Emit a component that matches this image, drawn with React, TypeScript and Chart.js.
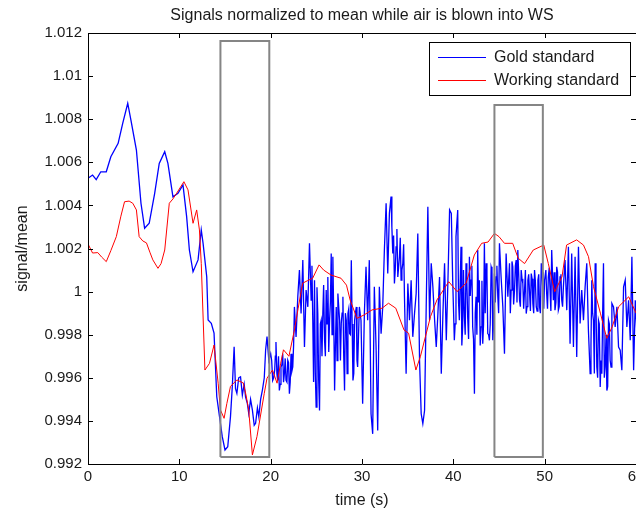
import { useEffect, useRef } from "react";
import { Chart, registerables } from "chart.js";

Chart.register(...registerables);

const TITLE = "Signals normalized to mean while air is blown into WS";
const X_LABEL = "time (s)";
const Y_LABEL = "signal/mean";
const GOLD_LABEL = "Gold standard";
const WORK_LABEL = "Working standard";

const xTickValues = [0, 10, 20, 30, 40, 50, 60];
const yTickValues = [0.992, 0.994, 0.996, 0.998, 1.0, 1.002, 1.004, 1.006, 1.008, 1.01, 1.012];

// [time (s), signal/mean] — main readings of the gold standard trace
const goldSignal: [number, number][] = [
  [0, 1.00526], [0.5, 1.00541], [0.9, 1.0052], [1.4, 1.00556], [2.0, 1.00556], [2.5, 1.00626],
  [3.3, 1.00688], [3.8, 1.00781], [4.35, 1.00874], [4.7, 1.00796], [5.3, 1.00657], [5.8, 1.0041],
  [6.2, 1.00294], [6.7, 1.00317], [7.3, 1.00456], [7.8, 1.00595], [8.4, 1.00649], [8.75, 1.00595],
  [9.3, 1.0044], [9.85, 1.00456], [10.4, 1.00495], [10.8, 1.00348], [11.1, 1.00193], [11.5, 1.00092],
  [12.05, 1.00147], [12.4, 1.00286], [12.6, 1.00224], [13.0, 1.00069], [13.15, 0.99868], [13.5, 0.99853],
  [13.8, 0.99807], [14.1, 0.99512], [14.4, 0.9942], [14.7, 0.99327], [15.0, 0.99265], [15.3, 0.9928],
  [15.6, 0.9942], [15.8, 0.9956], [16.0, 0.99744], [16.15, 0.9955], [16.3, 0.99528], [16.5, 0.996],
  [16.7, 0.99605], [16.9, 0.9952], [17.1, 0.9957], [17.25, 0.99512], [17.45, 0.9948], [17.6, 0.99435],
  [17.8, 0.995], [18.0, 0.9945], [18.2, 0.9938], [18.35, 0.99389], [18.55, 0.9946], [18.7, 0.9942],
  [18.9, 0.995], [19.1, 0.99544], [19.3, 0.996], [19.45, 0.9973], [19.6, 0.99791], [19.8, 0.9968],
  [20.0, 0.99712], [20.22, 0.99588], [20.44, 0.99635], [20.58, 0.99766], [20.77, 0.99588], [20.95, 0.99541],
  [21.13, 0.9965], [21.32, 0.99712], [21.5, 0.99619], [21.68, 0.99588], [21.87, 0.99681], [22.05, 0.99526],
  [22.23, 0.99712], [22.42, 0.9965], [22.6, 0.99929], [22.78, 0.9979], [22.97, 0.99976], [23.15, 1.001],
  [23.33, 0.99898], [23.52, 1.00146], [23.7, 0.99743], [23.88, 1.00007], [24.07, 0.99929], [24.25, 1.00224],
  [24.43, 0.9996], [24.61, 0.99867], [24.8, 1.00053], [24.98, 0.99464], [25.16, 0.99898], [25.35, 0.99448],
  [25.53, 0.99867], [25.71, 0.99898], [25.9, 0.99774], [26.08, 1.00007], [26.26, 1.00068], [26.45, 0.99867],
  [26.63, 1.00177], [26.81, 1.00162], [27.0, 0.99541], [27.18, 0.99929], [27.36, 0.99991], [27.55, 0.99867],
  [27.73, 0.99852], [27.91, 0.99976], [28.09, 0.99541], [28.28, 0.99867], [28.46, 0.99898], [28.64, 0.99805],
  [28.83, 1.00146], [29.01, 0.99588], [29.19, 0.99867], [29.38, 0.99929],
  [29.52, 0.9965], [29.71, 0.99929], [29.89, 0.99867], [30.07, 0.9948], [30.26, 0.99898], [30.44, 1.00115],
  [30.62, 0.99867], [30.8, 1.00146], [30.99, 0.99433], [31.17, 0.9934], [31.35, 1.00022], [31.54, 0.99743],
  [31.72, 0.99355], [31.9, 1.00022], [32.09, 0.99805], [32.27, 0.99929], [32.45, 1.00193], [32.64, 1.0041],
  [32.82, 1.00084], [33.0, 1.00363], [33.18, 1.00441], [33.37, 1.00177], [33.55, 1.00038], [33.73, 1.00208],
  [33.92, 1.00068], [34.1, 1.00162], [34.28, 1.00053], [34.47, 1.00131], [34.65, 0.99976], [34.83, 0.99619],
  [35.02, 1.00038], [35.2, 0.99867], [35.38, 1.00053], [35.56, 0.9979], [35.75, 0.99898], [35.93, 0.99991],
  [36.11, 1.0027], [36.3, 0.99681], [36.48, 0.99433], [36.66, 0.99387], [36.85, 0.99448], [37.03, 0.99929],
  [37.21, 1.00394], [37.4, 0.99867], [37.58, 1.00131], [37.76, 1.00022], [37.95, 0.99867], [38.13, 0.99743],
  [38.31, 0.99898], [38.49, 1.00068], [38.68, 0.99619], [38.86, 0.99898], [39.04, 1.00131], [39.23, 0.99774],
  [39.41, 1.00053], [39.59, 1.00379], [39.78, 1.00363],
  [39.93, 1.00053], [40.11, 0.99774], [40.29, 1.00255], [40.48, 1.00379], [40.66, 0.99867], [40.84, 1.00208],
  [41.02, 0.99836], [41.21, 0.99882], [41.39, 1.00131], [41.57, 0.99882], [41.76, 1.00162], [41.94, 1.00053],
  [42.12, 0.99836], [42.31, 0.99526], [42.49, 0.99976], [42.67, 1.00193], [42.85, 1.00053], [43.04, 0.99836],
  [43.22, 0.99758], [43.4, 1.00224], [43.59, 1.00131], [43.77, 0.99805], [43.95, 0.99774], [44.14, 1.00115],
  [44.32, 0.99774], [44.5, 1.00084], [44.68, 1.00068], [44.87, 0.99976], [45.05, 1.00224], [45.23, 1.00068],
  [45.42, 0.99929], [45.6, 0.99712], [45.78, 1.00177], [45.97, 0.99976], [46.15, 1.00131], [46.33, 1.00007],
  [46.51, 1.00115], [46.7, 1.00007], [46.88, 1.00146], [47.06, 1.00193], [47.25, 0.9996], [47.43, 1.001],
  [47.61, 1.00038], [47.8, 1.00007], [47.98, 0.99898], [48.16, 1.00053], [48.35, 0.99991], [48.53, 1.00084],
  [48.71, 0.99945], [48.89, 1.001], [49.08, 0.99929], [49.26, 1.00053], [49.44, 0.99929], [49.63, 1.00131],
  [49.81, 0.99991], [49.99, 1.00053],
  [50.22, 0.99991], [50.4, 1.00068], [50.59, 1.00007], [50.77, 1.00193], [50.95, 0.9996], [51.13, 0.99914],
  [51.32, 1.00115], [51.5, 0.99914], [51.68, 1.00068], [51.87, 0.9996], [52.05, 1.00022], [52.23, 1.00146],
  [52.42, 0.99914], [52.6, 1.00208], [52.78, 0.99758], [52.96, 1.00177], [53.15, 0.99743], [53.33, 1.00162],
  [53.51, 0.99697], [53.7, 1.00208], [53.88, 0.99852], [54.06, 1.00007], [54.25, 0.99867], [54.43, 1.00022],
  [54.61, 1.00131], [54.79, 0.99821], [54.98, 0.99619], [55.16, 1.00053], [55.34, 0.99867], [55.53, 1.00131],
  [55.71, 0.9965], [55.89, 0.99867], [56.08, 0.99557], [56.26, 0.99619], [56.44, 1.00131], [56.62, 0.9965],
  [56.81, 0.99541], [56.99, 0.99867], [57.17, 0.99681], [57.36, 0.99945], [57.54, 0.99929], [57.72, 0.99836],
  [57.91, 0.99929], [58.09, 0.99743], [58.27, 0.99728], [58.45, 0.99635], [58.64, 1.00022], [58.82, 1.00053],
  [59.0, 0.99836], [59.19, 0.9996], [59.37, 0.99774], [59.55, 1.00162], [59.74, 0.99635], [59.92, 0.9996],
  [60.1, 0.99805],
];

// extra readings of the gold trace in its densest (fast-oscillating) stretches
const goldDense: [number, number][] = [
  [20.11, 0.9968], [20.33, 0.996], [20.51, 0.997], [20.68, 0.9962], [20.86, 0.997], [21.04, 0.9957],
  [21.22, 0.9966], [21.41, 0.9958], [21.59, 0.9969], [21.78, 0.9958], [21.96, 0.9967], [22.14, 0.9958],
  [22.32, 0.9963], [22.51, 0.9975],
  [24.52, 1.0012], [24.7, 0.9958], [24.89, 0.9962], [25.07, 1.0002], [25.25, 0.996], [25.44, 0.9985],
  [25.62, 0.997], [25.8, 1.0003], [25.99, 0.997], [26.17, 0.9985], [26.36, 0.9972], [26.54, 0.9995],
  [26.72, 0.998], [26.9, 0.999], [27.09, 0.9975], [27.27, 0.9968], [27.45, 0.9993], [27.64, 0.9968],
  [27.82, 0.999], [28.0, 0.997], [28.18, 0.999], [28.37, 0.9962], [28.55, 0.9992], [28.73, 0.998],
  [28.92, 0.9985], [29.1, 0.9962], [29.28, 0.999], [29.45, 0.9968],
  [33.27, 1.003], [33.46, 1.0026], [33.64, 1.001], [33.82, 1.0029], [34.0, 1.0011], [34.19, 1.0025],
  [34.37, 1.001], [34.56, 1.0022],
  [40.2, 0.9985], [40.57, 0.9995], [40.93, 0.9975], [41.11, 1.001], [41.3, 0.998], [41.48, 1.0005],
  [41.67, 0.9978], [41.85, 0.9998], [42.03, 1.0012], [42.21, 0.9978], [42.4, 0.999], [42.58, 0.998],
  [42.76, 0.9995], [42.94, 0.9975], [43.13, 1.0005], [43.31, 0.9985], [43.49, 0.999], [43.68, 1.0008],
  [43.86, 0.998], [44.04, 0.9985], [44.23, 1.001], [44.41, 0.9985], [44.59, 0.9995], [44.77, 1.0012],
  [44.96, 0.999],
  [46.24, 0.999], [46.42, 1.0014], [46.6, 0.9994], [46.79, 1.0012], [46.97, 0.9995], [47.15, 1.0009],
  [47.34, 0.9993], [47.52, 1.0006], [47.7, 0.9992], [47.89, 1.001], [48.07, 0.9993], [48.25, 1.0008],
  [48.44, 0.9991], [48.62, 1.0006], [48.8, 0.999], [48.98, 1.0005], [49.17, 0.9991], [49.35, 1.0008],
  [49.53, 0.999], [49.72, 1.0009], [49.9, 0.9992],
  [50.13, 1.001], [50.31, 0.9992], [50.5, 1.0011], [50.68, 0.9991], [50.86, 1.0008], [51.04, 1.0009],
  [51.23, 0.9995], [51.41, 1.0009], [51.59, 0.9993], [51.78, 1.0008], [51.96, 0.9993],
  [55.07, 0.9975], [55.25, 0.999], [55.44, 0.9962], [55.62, 0.9995], [55.8, 0.996], [55.98, 0.9985],
  [56.17, 0.9968], [56.35, 0.999], [56.53, 0.996], [56.72, 0.998], [56.9, 0.9956], [57.08, 0.9985],
  [57.27, 0.9965],
];

const workSignal: [number, number][] = [
  [0, 1.00221], [0.5, 1.00179], [1.07, 1.00181], [1.5, 1.0016], [2.0, 1.00139], [2.5, 1.0019],
  [3.1, 1.00255], [3.6, 1.0035], [4.0, 1.00417], [4.5, 1.0042], [4.9, 1.0041], [5.3, 1.00379],
  [5.6, 1.00255], [6.0, 1.00235], [6.4, 1.00226], [6.8, 1.0018], [7.1, 1.00147], [7.66, 1.00108],
  [8.0, 1.0013], [8.4, 1.00193], [8.9, 1.0041], [9.3, 1.0043], [9.7, 1.00456], [10.5, 1.0051],
  [10.95, 1.00472], [11.5, 1.00317], [11.9, 1.00379], [12.2, 1.00286], [12.4, 1.00131], [12.8, 0.99636],
  [13.3, 0.99667], [13.8, 0.99752], [14.25, 0.99575], [14.5, 0.99451], [14.9, 0.99412], [15.2, 0.9948],
  [15.6, 0.9956], [16.3, 0.9959], [17.0, 0.99576], [17.3, 0.9952], [17.6, 0.9945], [18.0, 0.99242],
  [18.5, 0.99327], [19.3, 0.99528], [19.6, 0.99598], [20.2, 0.99636], [20.7, 0.99575], [21.1, 0.99668],
  [21.4, 0.9973], [22.0, 0.997], [22.6, 0.99822], [23.0, 0.9992], [23.5, 1.00039], [24.0, 1.0005],
  [24.6, 1.00062], [25.3, 1.00124], [25.8, 1.001], [26.6, 1.00077], [27.7, 1.00062], [28.3, 1.0003],
  [28.7, 0.99961], [29.45, 0.99876], [30.2, 0.99891], [31.1, 0.99915], [32.2, 0.99923], [32.9, 0.99946],
  [33.7, 0.99923], [34.6, 0.99822], [35.1, 0.99807], [35.9, 0.99636], [36.4, 0.997], [37.5, 0.99884],
  [38.2, 0.99961], [39.5, 1.00046], [40.4, 1.0], [41.4, 1.00039], [42.3, 1.0017], [43.1, 1.00224],
  [43.8, 1.0023], [44.5, 1.0027], [45.0, 1.00255], [45.6, 1.00224], [46.5, 1.00224], [47.1, 1.00155],
  [47.8, 1.0013], [48.75, 1.00193], [49.9, 1.00216], [50.4, 1.0013], [51.1, 0.99999], [51.9, 1.00069],
  [52.4, 1.00216], [53.5, 1.0024], [54.25, 1.00216], [54.8, 1.00162], [55.35, 1.00023], [56.1, 0.999],
  [56.8, 0.99783], [57.4, 0.99837], [58.1, 0.9993], [59.2, 0.99976], [60, 0.999],
];

// grey highlight rectangles (corner points)
const box1Time = [14.5, 14.5, 19.85, 19.85, 14.5];
const box1Value = [0.99232, 1.01163, 1.01163, 0.99232, 0.99232];
const box2Time = [44.5, 44.5, 49.8, 49.8, 44.5];
const box2Value = [0.99232, 1.00866, 1.00866, 0.99232, 0.99232];

const FONT = "'Liberation Sans', Arial, Helvetica, sans-serif";
const TEXT_COLOR = "#1a1a1a";

const fmt = (v: number) => String(Number(v.toFixed(3)));

const framePlugin = {
  id: "matlabFrame",
  afterDraw(chart: any) {
    const { ctx, chartArea } = chart;
    const { left, right, top, bottom } = chartArea;
    const xs = chart.scales.x;
    const ys = chart.scales.y;
    ctx.save();
    ctx.strokeStyle = "#000";
    ctx.lineWidth = 1;
    ctx.beginPath();
    ctx.rect(Math.round(left) + 0.5, Math.round(top) + 0.5, Math.round(right - left), Math.round(bottom - top));
    ctx.stroke();
    const tl = 5;
    ctx.beginPath();
    for (const v of xTickValues) {
      const px = Math.round(xs.getPixelForValue(v)) + 0.5;
      ctx.moveTo(px, bottom);
      ctx.lineTo(px, bottom - tl);
      ctx.moveTo(px, top);
      ctx.lineTo(px, top + tl);
    }
    for (const v of yTickValues) {
      const py = Math.round(ys.getPixelForValue(v)) + 0.5;
      ctx.moveTo(left, py);
      ctx.lineTo(left + tl, py);
      ctx.moveTo(right, py);
      ctx.lineTo(right - tl, py);
    }
    ctx.stroke();

    // legend
    const lw = 201;
    const lh = 53;
    const lx = Math.round(right) - 6 - lw;
    const ly = Math.round(top) + 9;
    ctx.fillStyle = "#fff";
    ctx.fillRect(lx, ly, lw, lh);
    ctx.strokeStyle = "#000";
    ctx.strokeRect(lx + 0.5, ly + 0.5, lw, lh);
    const items = [
      { label: GOLD_LABEL, color: "#0000ff" },
      { label: WORK_LABEL, color: "#ff0000" },
    ];
    ctx.font = `16px ${FONT}`;
    ctx.textBaseline = "middle";
    ctx.textAlign = "left";
    items.forEach((it, i) => {
      const cy = ly + 15 + i * 23;
      ctx.strokeStyle = it.color;
      ctx.beginPath();
      ctx.moveTo(lx + 9, cy + 0.5);
      ctx.lineTo(lx + 57, cy + 0.5);
      ctx.stroke();
      ctx.fillStyle = TEXT_COLOR;
      ctx.fillText(it.label, lx + 65, cy + 1);
    });
    ctx.restore();
  },
};

export default function App() {
  const canvasRef = useRef<HTMLCanvasElement | null>(null);

  useEffect(() => {
    const canvas = canvasRef.current;
    if (!canvas) return;
    const lineDs = (label: string, pts: { x: number; y: number }[], color: string, width: number) => ({
      label,
      data: pts,
      borderColor: color,
      borderWidth: width,
      pointRadius: 0,
      tension: 0,
      fill: false,
    });
    const toPts = (arr: [number, number][]) => arr.map(([x, y]) => ({ x, y }));
    const boxPts = (t: number[], v: number[]) => t.map((x, i) => ({ x, y: v[i] }));
    const goldPts = toPts([...goldSignal, ...goldDense].sort((a, b) => a[0] - b[0]));
    const chart = new Chart(canvas, {
      type: "line",
      data: {
        datasets: [
          lineDs("box1", boxPts(box1Time, box1Value), "#858585", 2),
          lineDs("box2", boxPts(box2Time, box2Value), "#858585", 2),
          lineDs(WORK_LABEL, toPts(workSignal), "#ff0000", 1),
          lineDs(GOLD_LABEL, goldPts, "#0000ff", 1.3),
        ],
      },
      options: {
        animation: false,
        responsive: false,
        devicePixelRatio: 1,
        parsing: false as any,
        normalized: true,
        layout: { padding: 0 },
        plugins: {
          legend: { display: false },
          tooltip: { enabled: false },
          title: {
            display: true,
            text: TITLE,
            fullSize: false,
            color: TEXT_COLOR,
            font: { family: FONT, size: 16, weight: "normal", lineHeight: 1.2 },
            padding: { top: 6, bottom: 7.8 },
          },
        },
        scales: {
          x: {
            type: "linear",
            min: 0,
            max: 60,
            grid: { display: false, drawTicks: false },
            border: { display: false },
            afterBuildTicks: (s: any) => {
              s.ticks = xTickValues.map((v) => ({ value: v }));
            },
            afterFit: (s: any) => {
              s.height = 46;
              s.paddingLeft = 0;
              s.paddingRight = 0;
            },
            ticks: {
              padding: 4,
              maxRotation: 0,
              autoSkip: false,
              color: TEXT_COLOR,
              font: { family: FONT, size: 15 },
              callback: (v: any) => fmt(Number(v)),
            },
            title: {
              display: true,
              text: X_LABEL,
              color: TEXT_COLOR,
              font: { family: FONT, size: 16, lineHeight: 1.2 },
              padding: { top: 0, bottom: 0 },
            },
          },
          y: {
            type: "linear",
            min: 0.992,
            max: 1.012,
            grid: { display: false, drawTicks: false },
            border: { display: false },
            afterBuildTicks: (s: any) => {
              s.ticks = yTickValues.map((v) => ({ value: v }));
            },
            afterFit: (s: any) => {
              s.width = 88;
              s.paddingTop = 0;
              s.paddingBottom = 0;
            },
            ticks: {
              padding: 6,
              autoSkip: false,
              color: TEXT_COLOR,
              font: { family: FONT, size: 15 },
              callback: (v: any) => fmt(Number(v)),
            },
            title: {
              display: true,
              text: Y_LABEL,
              color: TEXT_COLOR,
              font: { family: FONT, size: 16, lineHeight: 1.2 },
              padding: { top: 13, bottom: 0 },
            },
          },
        },
      },
      plugins: [framePlugin],
    });
    return () => chart.destroy();
  }, []);

  return (
    <div style={{ position: "fixed", left: 0, top: 0, width: 636, height: 510, background: "#fff" }}>
      <canvas ref={canvasRef} width={636} height={510} style={{ display: "block" }} />
    </div>
  );
}
